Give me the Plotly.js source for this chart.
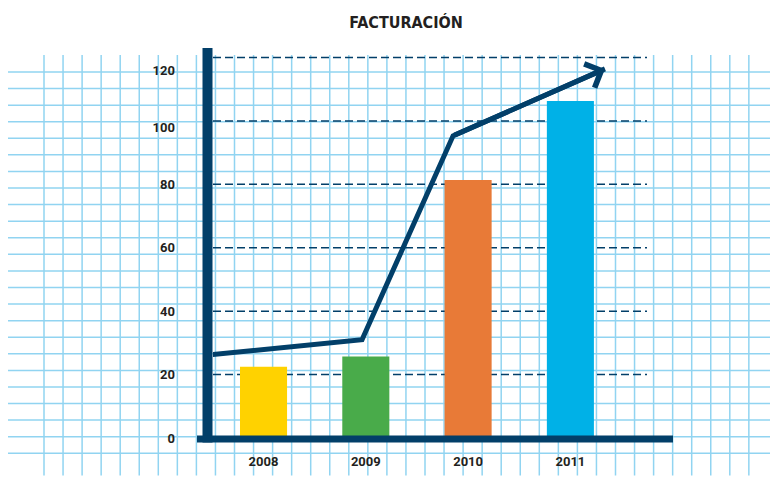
<!DOCTYPE html>
<html>
<head>
<meta charset="utf-8">
<script src="https://cdn.plot.ly/plotly-3.0.1.min.js"></script>
<style>html,body{margin:0;padding:0;background:#fff;}#chart{width:770px;height:477px;}</style>
</head>
<body>
<div id="chart"></div>
<script>
// ---- data ----
var years = ['2008', '2009', '2010', '2011'];
var yearIndex = [0, 1, 2, 3];
var revenue = [22.5, 25.7, 81.4, 106.3];
var barColors = ['#ffd200', '#49ab4a', '#e87a37', '#00b1e7'];
var trendX = [-0.5, 0.963, 1.853, 3.338];
var trendY = [26.3, 31.0, 95.3, 116.4];
var dashLevels = [20, 40, 60, 80, 100, 120];
var yLabelPos = [0, 20, 40, 60, 80, 97.8, 116];
var yLabelText = ['0', '20', '40', '60', '80', '100', '120'];

// ---- layout geometry (pixels) ----
var W = 770, H = 477;
var L = 213, R = 123, T = 47, B = 38.5;
var pw = W - L - R, ph = H - T - B;
function px(x) { return (x - L) / pw; }
function py(y) { return (H - B - y) / ph; }
var navy = '#023f69';
var gridBlue = 'rgb(145,212,241)';

var shapes = [];
// graph-paper background
for (var k = 0; k <= 37; k++) {
  var gx = 44 + 19.05 * k;
  shapes.push({type: 'line', layer: 'below', xref: 'paper', yref: 'paper',
    x0: px(gx), x1: px(gx), y0: py(55), y1: py(476),
    line: {color: gridBlue, width: 1.5}});
}
for (var j = 0; j <= 23; j++) {
  var gy = 72 + 16.6 * j;
  shapes.push({type: 'line', layer: 'below', xref: 'paper', yref: 'paper',
    x0: px(8), x1: px(770), y0: py(gy), y1: py(gy),
    line: {color: gridBlue, width: 1.5}});
}
// dashed value lines
dashLevels.forEach(function (v) {
  shapes.push({type: 'line', layer: 'below', xref: 'paper', yref: 'y',
    x0: 0, x1: 1, y0: v, y1: v,
    line: {color: navy, width: 1.5, dash: '8px,4px'}});
});
// thick axis lines
shapes.push({type: 'line', layer: 'above', xref: 'paper', yref: 'paper',
  x0: px(207.5), x1: px(207.5), y0: py(48), y1: py(443),
  line: {color: navy, width: 10}});
shapes.push({type: 'line', layer: 'above', xref: 'paper', yref: 'paper',
  x0: px(197), x1: px(673), y0: py(439.5), y1: py(439.5),
  line: {color: navy, width: 7}});

var traces = [
  {type: 'bar', x: yearIndex, y: revenue, width: 0.46,
   marker: {color: barColors, line: {width: 0}}, hoverinfo: 'none'},
  {type: 'scatter', mode: 'lines', x: trendX, y: trendY,
   line: {color: navy, width: 5}, hoverinfo: 'none', cliponaxis: false}
];

var tickFont = {family: 'Roboto, sans-serif', size: 13, color: '#231f20', weight: 'bold'};

var layout = {
  width: W, height: H,
  margin: {l: L, r: R, t: T, b: B, pad: 0},
  paper_bgcolor: '#ffffff',
  plot_bgcolor: 'rgba(0,0,0,0)',
  showlegend: false,
  title: {text: 'FACTURACIÓN', x: px(406), xref: 'paper', xanchor: 'center',
    y: 1 - 22 / H, yref: 'container', yanchor: 'middle',
    font: {family: '"DejaVu Sans Condensed", Roboto, sans-serif', size: 16, color: '#231f20', weight: 'bold'}},
  xaxis: {range: [-0.494, 3.749], tickvals: yearIndex, ticktext: years,
    showgrid: false, zeroline: false, showline: false, ticks: '',
    ticklabelstandoff: 14, tickfont: tickFont},
  yaxis: {range: [0, ph / 3.175], tickvals: yLabelPos, ticktext: yLabelText,
    showgrid: false, zeroline: false, showline: false, ticks: '',
    ticklabelstandoff: 37, tickfont: tickFont},
  shapes: shapes,
  annotations: [{
    x: trendX[3], y: trendY[3], xref: 'x', yref: 'y',
    ax: trendX[2], ay: trendY[2], axref: 'x', ayref: 'y',
    text: '', showarrow: true, arrowhead: 4, arrowsize: 1, arrowwidth: 5,
    arrowcolor: navy, standoff: 0
  }]
};

Plotly.newPlot('chart', traces, layout, {displayModeBar: false, staticPlot: true});
</script>
</body>
</html>
